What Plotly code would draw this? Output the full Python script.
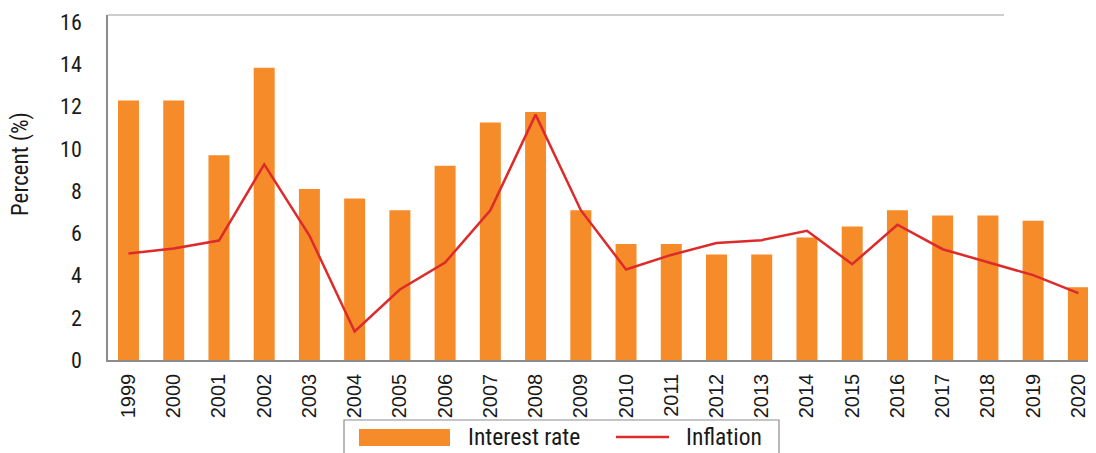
import plotly.graph_objects as go

years = [str(y) for y in range(1999, 2021)]
interest_rate = [12.3, 12.3, 9.7, 13.85, 8.1, 7.65, 7.1, 9.2, 11.25, 11.75, 7.1,
                 5.5, 5.5, 5.0, 5.0, 5.8, 6.33, 7.1, 6.85, 6.85, 6.6, 3.45]
inflation = [5.05, 5.28, 5.66, 9.27, 5.9, 1.35, 3.34, 4.62, 7.09, 11.63, 7.1,
             4.29, 4.98, 5.54, 5.68, 6.12, 4.54, 6.41, 5.25, 4.62, 4.02, 3.17]
y_ticks = [0, 2, 4, 6, 8, 10, 12, 14, 16]

ORANGE = "#F68B29"
RED = "#DD2A2A"
GRAY = "#8C8C8C"
COND = "Liberation Sans Narrow, Roboto Condensed, Arial Narrow, sans-serif"

fig = go.Figure()
fig.add_trace(go.Bar(x=years, y=interest_rate, name="Interest rate",
                     marker=dict(color=ORANGE, line=dict(width=0)), showlegend=False))
fig.add_trace(go.Scatter(x=years, y=inflation, name="Inflation", mode="lines",
                         line=dict(color=RED, width=2.5), showlegend=False))

# page body has an 8px default margin, so the figure sits at (8, 8)
OFF = 8
W, H = 1096 - OFF, 453 - OFF
L, R, T, B = 108 - OFF, 0, 15 - OFF, 93
pw = W - L - R
ph = H - T - B

def px(x):  # reference-screen x -> paper
    return (x - OFF - L) / pw

def py(y):  # reference-screen y -> paper
    return (H - B - (y - OFF)) / ph

fig.update_layout(
    width=W, height=H,
    margin=dict(l=L, r=R, t=T, b=B, pad=0),
    plot_bgcolor="white", paper_bgcolor="white",
    bargap=0.536,
    font=dict(family="Liberation Sans, Arial, sans-serif", color="#1a1a1a"),
    xaxis=dict(
        type="category", range=[-0.453, 21.39],
        showgrid=False, zeroline=False,
        showline=True, linecolor=GRAY, linewidth=1.5,
        ticks="", tickangle=-90, ticklabelstandoff=4,
        tickfont=dict(size=20, family="Liberation Sans, Arial, sans-serif", color="#1a1a1a"),
    ),
    yaxis=dict(
        range=[0, 16.35], tickvals=y_ticks,
        showgrid=False, zeroline=False,
        showline=True, linecolor=GRAY, linewidth=1.5,
        ticks="", ticklabelstandoff=20,
        tickfont=dict(size=22, family=COND, color="#1a1a1a"),
    ),
    shapes=[
        dict(type="line", xref="paper", yref="paper", x0=0, x1=px(1004), y0=1, y1=1,
             line=dict(color="#BDBDBD", width=1.5)),
        dict(type="rect", xref="paper", yref="paper", x0=px(344), x1=px(779),
             y0=py(420), y1=py(470), line=dict(color=GRAY, width=1.2), fillcolor="white"),
        dict(type="rect", xref="paper", yref="paper", x0=px(359), x1=px(450),
             y0=py(429), y1=py(446), line=dict(width=0), fillcolor=ORANGE),
        dict(type="line", xref="paper", yref="paper", x0=px(616), x1=px(669),
             y0=py(437), y1=py(437), line=dict(color=RED, width=2.5)),
    ],
    annotations=[
        dict(text="Percent (%)", xref="paper", yref="paper", x=px(20), y=py(164),
             xanchor="center", yanchor="middle", textangle=-90, showarrow=False,
             font=dict(size=23, family=COND, color="#1a1a1a")),
        dict(text="Interest rate", xref="paper", yref="paper", x=px(466), y=py(437),
             xanchor="left", yanchor="middle", showarrow=False,
             font=dict(size=23.5, family=COND, color="#1a1a1a")),
        dict(text="Inflation", xref="paper", yref="paper", x=px(684), y=py(437),
             xanchor="left", yanchor="middle", showarrow=False,
             font=dict(size=23.5, family=COND, color="#1a1a1a")),
    ],
)

fig.write_html("out.html")
